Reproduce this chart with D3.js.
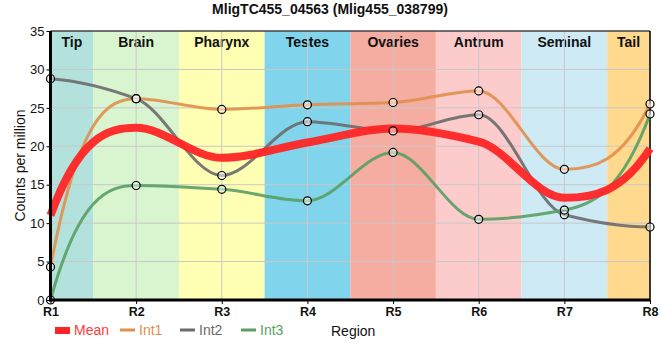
<!DOCTYPE html>
<html><head><meta charset="utf-8">
<script src="https://cdn.jsdelivr.net/npm/d3@7"></script>
<style>body{margin:0;background:#fff;} text{font-family:"Liberation Sans", Arial, sans-serif;}</style>
</head><body>
<svg id="c" width="660" height="360"></svg>
<script>
const categories = ["R1","R2","R3","R4","R5","R6","R7","R8"];
const regions = ["Tip","Brain","Pharynx","Testes","Ovaries","Antrum","Seminal","Tail"];
const regionColors = ["#b3e2dd","#d8f5d0","#ffffb3","#80d4eb","#f4ada0","#fccbcb","#cdeaf5","#fed98e"];
const int1 = [4.3, 26.2, 24.8, 25.4, 25.7, 27.2, 17.0, 25.5];
const int2 = [28.8, 26.2, 16.2, 23.2, 22.0, 24.1, 11.1, 9.5];
const int3 = [0, 14.9, 14.4, 12.9, 19.2, 10.5, 11.7, 24.2];
const meanVals = [11.0, 22.4, 18.5, 20.5, 22.3, 20.6, 13.3, 19.7];
const yTicks = [0,5,10,15,20,25,30,35];

// smooth monotone Hermite curve (D3 curve interface)
function SmoothCurve(context) { this._context = context; }
SmoothCurve.prototype = {
  areaStart() {}, areaEnd() {},
  lineStart() { this._x = []; this._y = []; },
  point(x, y) { this._x.push(+x); this._y.push(+y); },
  lineEnd() {
    const X = this._x, Y = this._y, n = X.length, c = this._context;
    if (!n) return;
    c.moveTo(X[0], Y[0]);
    if (n < 2) return;
    const s = [];
    for (let i = 0; i < n - 1; i++) s.push((Y[i+1] - Y[i]) / (X[i+1] - X[i]));
    const t = new Array(n).fill(0);
    for (let i = 1; i < n - 1; i++) {
      const a = s[i-1], b = s[i];
      t[i] = (a * b <= 0) ? 0 : 2 * a * b / (a + b);
    }
    const endT = (sv, tadj) => {
      let v = 2.7 * sv - 1.5 * tadj;
      if (v * sv <= 0) return 0;
      if (Math.abs(v) > 3 * Math.abs(sv)) v = 3 * sv;
      return v;
    };
    t[0] = endT(s[0], n > 2 ? t[1] : s[0]);
    t[n-1] = endT(s[n-2], n > 2 ? t[n-2] : s[n-2]);
    for (let i = 0; i < n - 1; i++) {
      const h = (X[i+1] - X[i]) / 3;
      c.bezierCurveTo(X[i] + h, Y[i] + t[i] * h, X[i+1] - h, Y[i+1] - t[i+1] * h, X[i+1], Y[i+1]);
    }
  }
};
const smoothCurve = ctx => new SmoothCurve(ctx);

const svg = d3.select("#c");
const L = 50.5, R = 650, T = 31, B = 300;
const x = d3.scaleLinear().domain([0, 7]).range([L, R]);
const y = d3.scaleLinear().domain([0, 35]).range([B, T]);

// bands
regions.forEach((r, i) => {
  const x0 = x(Math.max(0, i - 0.5)), x1 = x(Math.min(7, i + 0.5));
  svg.append("rect").attr("x", x0).attr("y", T).attr("width", x1 - x0).attr("height", B - T).attr("fill", regionColors[i]);
  svg.append("text").attr("x", (x0 + x1) / 2).attr("y", T + 16).attr("text-anchor", "middle")
    .attr("font-size", 14).attr("font-weight", "bold").attr("fill", "#111").text(r);
});
// grid
const g = svg.append("g");
yTicks.forEach(t => g.append("line").attr("x1", L).attr("x2", R).attr("y1", y(t)).attr("y2", y(t)).attr("stroke", "#c8c8c8").attr("stroke-width", 1));
categories.forEach((c, i) => g.append("line").attr("x1", x(i)).attr("x2", x(i)).attr("y1", T).attr("y2", B).attr("stroke", "#c8c8c8").attr("stroke-width", 1));

// frame
svg.append("line").attr("x1", L).attr("x2", R).attr("y1", T).attr("y2", T).attr("stroke", "#000");
svg.append("line").attr("x1", R).attr("x2", R).attr("y1", T).attr("y2", B).attr("stroke", "#000").attr("stroke-width", 1.5);

const line = d3.line().x((d, i) => x(i)).y(d => y(d)).curve(smoothCurve);
const series = [
  {name: "Int1", vals: int1, color: "#e08f4c", w: 3},
  {name: "Int2", vals: int2, color: "#6b6b6b", w: 3},
  {name: "Int3", vals: int3, color: "#5a9e64", w: 3}
];
series.forEach(s => {
  svg.append("path").attr("d", line(s.vals)).attr("fill", "none").attr("stroke", s.color).attr("stroke-width", s.w).attr("stroke-opacity", 0.9);
});
svg.append("path").attr("d", line(meanVals)).attr("fill", "none").attr("stroke", "#ff2525").attr("stroke-width", 8).attr("stroke-opacity", 0.95);
series.forEach(s => {
  svg.selectAll(null).data(s.vals).enter().append("circle")
    .attr("cx", (d, i) => x(i)).attr("cy", d => y(d)).attr("r", 4)
    .attr("fill", "#fff").attr("fill-opacity", 0.5).attr("stroke", "#000").attr("stroke-width", 1.2);
});

// axes
const yAxis = svg.append("g").attr("transform", `translate(${L},0)`)
  .call(d3.axisLeft(y).tickValues(yTicks).tickSize(4).tickPadding(2));
yAxis.select(".domain").remove();
yAxis.selectAll("text").attr("font-size", 13).attr("fill", "#111");
const xAxis = svg.append("g").attr("transform", `translate(0,${B})`)
  .call(d3.axisBottom(x).tickValues(d3.range(8)).tickFormat(i => categories[i]).tickSize(4).tickPadding(3));
xAxis.select(".domain").remove();
xAxis.selectAll("text").attr("font-size", 12.5).attr("font-weight", "bold").attr("fill", "#111");
svg.append("line").attr("x1", L).attr("x2", L).attr("y1", T).attr("y2", B + 1.5).attr("stroke", "#000").attr("stroke-width", 3);
svg.append("line").attr("x1", L - 1.5).attr("x2", R).attr("y1", B).attr("y2", B).attr("stroke", "#000").attr("stroke-width", 3);

svg.append("text").attr("transform", `translate(25,${(T + B) / 2}) rotate(-90)`).attr("text-anchor", "middle")
  .attr("font-size", 14).attr("fill", "#111").text("Counts per million");
svg.append("text").attr("x", 330).attr("y", 14).attr("text-anchor", "middle").attr("font-size", 14)
  .attr("font-weight", "bold").attr("fill", "#111").text("MligTC455_04563 (Mlig455_038799)");

// legend
const ly = 330;
svg.append("rect").attr("x", 55).attr("y", ly - 3).attr("width", 15).attr("height", 7).attr("fill", "#ff2525");
svg.append("text").attr("x", 74).attr("y", ly + 5).attr("font-size", 14).attr("fill", "#ff3b3b").text("Mean");
const lx = [120, 180, 241];
series.forEach((s, i) => {
  svg.append("line").attr("x1", lx[i]).attr("x2", lx[i] + 15).attr("y1", ly).attr("y2", ly).attr("stroke", s.color).attr("stroke-width", 3);
  svg.append("text").attr("x", lx[i] + 19).attr("y", ly + 5).attr("font-size", 14).attr("fill", s.color).text(s.name);
});
svg.append("text").attr("x", 331).attr("y", ly + 6).attr("font-size", 14).attr("fill", "#111").text("Region");
</script>
</body></html>
